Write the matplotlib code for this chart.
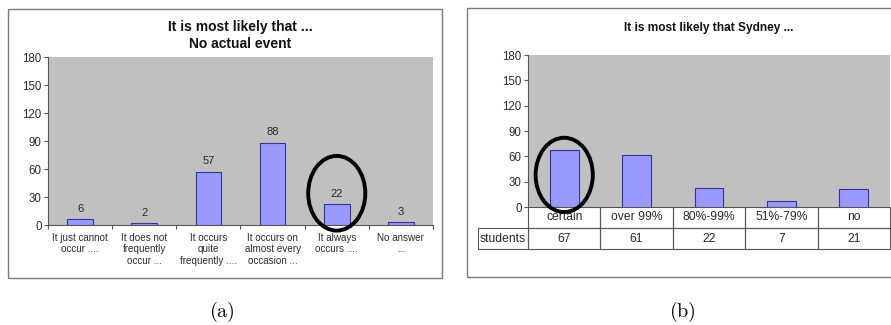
import matplotlib
matplotlib.use("Agg")
import matplotlib.pyplot as plt
from matplotlib.patches import Rectangle, Ellipse
from matplotlib.transforms import blended_transform_factory

plt.rcParams['font.family'] = ['Liberation Sans', 'DejaVu Sans']
plt.rcParams['mathtext.fontset'] = 'cm'

# ---- data ----
event_labels = [
    "It just cannot\noccur ....",
    "It does not\nfrequently\noccur ...",
    "It occurs\nquite\nfrequently ....",
    "It occurs on\nalmost every\noccasion ...",
    "It always\noccurs ....",
    "No answer\n...",
]
event_counts = [6, 2, 57, 88, 22, 3]
event_highlight = 4

sydney_labels = ["certain", "over 99%", "80%-99%", "51%-79%", "no"]
sydney_counts = [67, 61, 22, 7, 21]
sydney_row_label = "students"
sydney_highlight = 0

y_ticks = [0, 30, 60, 90, 120, 150, 180]

W, H = 891, 325
fig = plt.figure(figsize=(W / 100, H / 100), dpi=100)
fig.patch.set_facecolor("white")


def px_rect(x0, y0, x1, y1):
    """Figure-fraction rectangle from pixel corners (y measured from top)."""
    return [x0 / W, 1 - y1 / H, (x1 - x0) / W, (y1 - y0) / H]


def frame(x0, y0, x1, y1):
    l, b, w, h = px_rect(x0, y0, x1, y1)
    fig.patches.append(Rectangle((l, b), w, h, transform=fig.transFigure,
                                 fill=False, edgecolor="#7a7a7a", lw=1.0))


BAR_FC = "#9999ff"
BAR_EC = "#333399"
PLOT_BG = "#c0c0c0"
TXT = "#2a2a2a"


def style_axes(ax, n):
    ax.set_facecolor(PLOT_BG)
    ax.set_xlim(-0.5, n - 0.5)
    ax.set_ylim(0, 180)
    ax.set_yticks(y_ticks)
    for s in ("top", "right"):
        ax.spines[s].set_visible(False)
    ax.spines["left"].set_color("#555555")
    ax.spines["bottom"].set_color("#555555")
    ax.spines["left"].set_linewidth(0.8)
    ax.spines["bottom"].set_linewidth(0.8)
    ax.tick_params(axis="y", direction="out", length=3, width=0.8,
                   color="#555555", labelsize=8.3, labelcolor=TXT, pad=1.5)


# ---- panel (a) ----
frame(8, 9, 442, 278)
ax1 = fig.add_axes(px_rect(48, 57, 433, 225))
style_axes(ax1, len(event_counts))
x1 = list(range(len(event_counts)))
ax1.bar(x1, event_counts, width=0.4, color=BAR_FC, edgecolor=BAR_EC,
        linewidth=0.8, zorder=3)
for xi, v in zip(x1, event_counts):
    ax1.annotate(str(v), (xi, v), xytext=(0, 4), textcoords="offset points",
                 ha="center", va="bottom", fontsize=8, color=TXT)
ax1.set_xticks([i + 0.5 for i in x1[:-1]] + [-0.5, len(x1) - 0.5])
ax1.tick_params(axis="x", direction="out", length=3, width=0.8,
                color="#555555", labelbottom=False)
for xi, lab in zip(x1, event_labels):
    ax1.annotate(lab, (xi, 0), xytext=(0, -5.5), textcoords="offset points",
                 ha="center", va="top", fontsize=7.1, color=TXT,
                 linespacing=1.2, annotation_clip=False)
ax1.set_title("It is most likely that ...\nNo actual event", fontsize=10,
              fontweight="bold", color="#111111", pad=6.5, linespacing=1.25)
hv = event_counts[event_highlight]
ax1.add_patch(Ellipse((event_highlight, hv + 12), 0.89, 80, fill=False,
                      edgecolor="black", lw=2.8, clip_on=False, zorder=5))

# ---- panel (b) ----
frame(467, 8, 895, 277)
ax2 = fig.add_axes(px_rect(528, 55, 890, 207))
style_axes(ax2, len(sydney_counts))
ax2.spines["bottom"].set_visible(False)
x2 = list(range(len(sydney_counts)))
ax2.bar(x2, sydney_counts, width=0.4, color=BAR_FC, edgecolor=BAR_EC,
        linewidth=0.8, zorder=3)
ax2.set_xticks([])
ax2.set_title("It is most likely that Sydney ...", fontsize=8.6,
              fontweight="bold", color="#111111", pad=17.5)

# data table beneath the bars
tr = blended_transform_factory(ax2.transData, ax2.transAxes)
row_h = 21 / 152
row_lab_w = 50 / (362 / len(sydney_counts))
cell_kw = dict(transform=tr, fill=False, edgecolor="#555555", lw=0.8,
               clip_on=False)
for xi, lab, v in zip(x2, sydney_labels, sydney_counts):
    ax2.add_patch(Rectangle((xi - 0.5, -row_h), 1, row_h, **cell_kw))
    ax2.add_patch(Rectangle((xi - 0.5, -2 * row_h), 1, row_h, **cell_kw))
    ax2.text(xi, -row_h / 2, lab, transform=tr, ha="center", va="center",
             fontsize=8.7, color=TXT)
    ax2.text(xi, -1.5 * row_h, str(v), transform=tr, ha="center",
             va="center", fontsize=8.7, color=TXT)
ax2.add_patch(Rectangle((-0.5 - row_lab_w, -2 * row_h), row_lab_w, row_h,
                        **cell_kw))
ax2.text(-0.5 - row_lab_w / 2, -1.5 * row_h, sydney_row_label, transform=tr,
         ha="center", va="center", fontsize=8.7, color=TXT)
sv = sydney_counts[sydney_highlight]
ax2.add_patch(Ellipse((sydney_highlight, sv - 29), 0.79, 88, fill=False,
                      edgecolor="black", lw=2.8, clip_on=False, zorder=5))

# ---- sub-figure captions ----
fig.text(222 / W, 1 - 312 / H, r"$\mathrm{(a)}$", ha="center", va="center",
         fontsize=14.5)
fig.text(682 / W, 1 - 312 / H, r"$\mathrm{(b)}$", ha="center", va="center",
         fontsize=14.5)

fig.savefig("out.png", dpi=100, facecolor="white")
